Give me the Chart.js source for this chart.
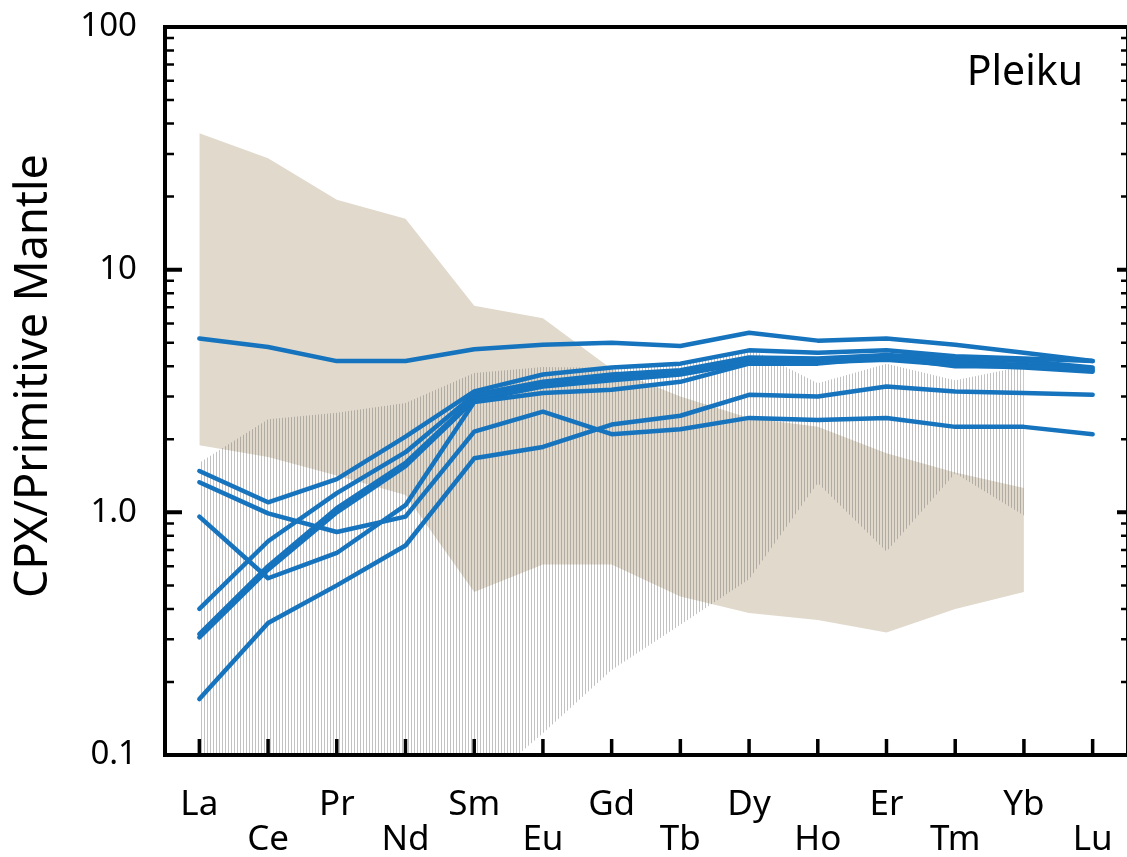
<!DOCTYPE html>
<html>
<head>
<meta charset="utf-8">
<script src="https://cdn.jsdelivr.net/npm/chart.js@4.4.1/dist/chart.umd.min.js"></script>
<style>
  html, body { margin: 0; padding: 0; background: #fff; }
  #c { display: block; }
</style>
</head>
<body>
<canvas id="c" width="1127" height="857"></canvas>
<script>
const elements = ['La','Ce','Pr','Nd','Sm','Eu','Gd','Tb','Dy','Ho','Er','Tm','Yb','Lu'];

// CPX samples, normalised to primitive mantle
const cpx1 = [5.2, 4.8, 4.2, 4.2, 4.7, 4.9, 5.0, 4.85, 5.5, 5.1, 5.2, 4.9, 4.55, 4.2];
const cpx2 = [1.48, 1.10, 1.37, 2.05, 3.15, 3.7, 3.95, 4.1, 4.65, 4.55, 4.65, 4.4, 4.3, 4.2];
const cpx3 = [1.33, 0.99, 0.83, 0.96, 2.15, 2.6, 2.1, 2.2, 2.45, 2.4, 2.45, 2.25, 2.25, 2.1];
const cpx4 = [0.96, 0.535, 0.68, 1.07, 2.85, 3.1, 3.2, 3.45, 4.1, 4.1, 4.35, 4.0, 4.0, 3.9];
const cpx5 = [0.40, 0.76, 1.2, 1.77, 3.05, 3.45, 3.7, 3.85, 4.35, 4.3, 4.45, 4.3, 4.2, 3.95];
const cpx6 = [0.315, 0.60, 1.04, 1.6, 2.95, 3.35, 3.6, 3.75, 4.2, 4.2, 4.3, 4.15, 4.05, 3.85];
const cpx7 = [0.305, 0.58, 1.0, 1.55, 2.9, 3.3, 3.5, 3.7, 4.15, 4.15, 4.25, 4.05, 3.95, 3.8];
const cpx8 = [0.17, 0.35, 0.5, 0.73, 1.67, 1.86, 2.3, 2.5, 3.05, 3.0, 3.3, 3.15, 3.1, 3.05];

// reference fields (no value at Lu)
const tanUpper   = [36.5, 28.8, 19.4, 16.2, 7.1, 6.3, 3.9, 3.0, 2.45, 2.25, 1.75, 1.46, 1.26, null];
const tanLower   = [1.89, 1.69, 1.42, 1.18, 0.47, 0.61, 0.61, 0.45, 0.385, 0.36, 0.32, 0.40, 0.47, null];
const hatchUpper = [1.6, 2.42, 2.57, 2.82, 3.75, 3.97, 3.93, 4.05, 4.75, 3.4, 4.1, 3.5, 4.0, null];
const hatchLower = [0.07, 0.07, 0.07, 0.07, 0.07, 0.123, 0.224, 0.344, 0.53, 1.32, 0.69, 1.45, 0.97, null];

const yTickValues = [0.1, 1, 10, 100];

const BLUE = '#1673bd';
const TAN = '#e0d9cc';

function makeHatch() {
  const c = document.createElement('canvas');
  c.width = 3; c.height = 4;
  const g = c.getContext('2d');
  g.fillStyle = 'rgba(110,110,110,0.42)';
  g.fillRect(0, 0, 1, 4);
  return g.createPattern(c, 'repeat');
}

const samples = [cpx1, cpx2, cpx3, cpx4, cpx5, cpx6, cpx7, cpx8];
const datasets = samples.map((d, i) => ({
  label: 'cpx' + (i + 1), data: d, borderColor: BLUE, borderWidth: 4.5,
  borderCapStyle: 'round', borderJoinStyle: 'round', fill: false, order: 0
}));
datasets.push(
  { label: 'hatchUp', data: hatchUpper, borderWidth: 0, borderColor: 'rgba(0,0,0,0)', fill: '+1', backgroundColor: makeHatch(), order: 1 },
  { label: 'hatchLo', data: hatchLower, borderWidth: 0, borderColor: 'rgba(0,0,0,0)', fill: false, order: 1 },
  { label: 'tanUp', data: tanUpper, borderWidth: 0, borderColor: 'rgba(0,0,0,0)', fill: '+1', backgroundColor: TAN, order: 2 },
  { label: 'tanLo', data: tanLower, borderWidth: 0, borderColor: 'rgba(0,0,0,0)', fill: false, order: 2 }
);

const framePlugin = {
  id: 'frame',
  afterDatasetsDraw(chart) {
    const { ctx, chartArea: a, scales } = chart;
    const y = scales.y, x = scales.x;
    ctx.save();
    ctx.strokeStyle = '#000';
    ctx.lineCap = 'butt';
    // frame
    ctx.lineWidth = 4;
    ctx.beginPath();
    ctx.moveTo(a.right + 2, a.top); ctx.lineTo(a.left, a.top);
    ctx.lineTo(a.left, a.bottom); ctx.lineTo(a.right + 2, a.bottom);
    ctx.moveTo(a.right + 1, a.top); ctx.lineTo(a.right + 1, a.bottom);
    ctx.stroke();
    // y ticks, both sides
    const minor = [];
    [0.1, 1, 10].forEach(d => { for (let k = 2; k <= 9; k++) minor.push(d * k); });
    ctx.lineWidth = 2.5;
    ctx.beginPath();
    minor.forEach(v => {
      const py = y.getPixelForValue(v);
      ctx.moveTo(a.left, py); ctx.lineTo(a.left + 9, py);
      ctx.moveTo(a.right, py); ctx.lineTo(a.right - 6, py);
    });
    ctx.stroke();
    ctx.lineWidth = 4;
    ctx.beginPath();
    [1, 10].forEach(v => {
      const py = y.getPixelForValue(v);
      ctx.moveTo(a.left, py); ctx.lineTo(a.left + 17, py);
      ctx.moveTo(a.right, py); ctx.lineTo(a.right - 10, py);
    });
    ctx.stroke();
    // x ticks
    ctx.lineWidth = 3.5;
    ctx.beginPath();
    elements.forEach((e, i) => {
      const px = x.getPixelForValue(i);
      ctx.moveTo(px, a.bottom); ctx.lineTo(px, a.bottom - 16);
    });
    ctx.stroke();
    // y title
    ctx.fillStyle = '#000';
    ctx.font = '45px "Noto Sans"';
    ctx.save();
    ctx.translate(47, 376);
    ctx.rotate(-Math.PI / 2);
    ctx.textAlign = 'center';
    ctx.textBaseline = 'alphabetic';
    ctx.fillText('CPX/Primitive Mantle', 0, 0);
    ctx.restore();
    // locality
    ctx.font = '41px "Noto Sans"';
    ctx.textAlign = 'right';
    ctx.textBaseline = 'alphabetic';
    ctx.fillText('Pleiku', 1083, 85);
    ctx.restore();
  }
};

function noPad(s) {
  s.paddingTop = 0; s.paddingBottom = 0; s.paddingLeft = 0; s.paddingRight = 0;
}

new Chart(document.getElementById('c').getContext('2d'), {
  type: 'line',
  data: { labels: elements, datasets: datasets },
  options: {
    responsive: false,
    animation: false,
    layout: { padding: { top: 27, right: 0, left: 0, bottom: 0 } },
    plugins: { legend: { display: false }, tooltip: { enabled: false } },
    elements: { point: { radius: 0 }, line: { tension: 0 } },
    scales: {
      x: {
        type: 'category', offset: true,
        grid: { display: false, drawTicks: false }, border: { display: false },
        ticks: {
          color: '#000', padding: 33, maxRotation: 0, autoSkip: false,
          font: { family: 'Noto Sans', size: 35, lineHeight: 1.0 },
          callback: (v, i) => i % 2 ? ['', elements[i]] : elements[i]
        },
        afterFit: s => { s.height = 102; noPad(s); }
      },
      y: {
        type: 'logarithmic', min: 0.1, max: 100,
        grid: { display: false, drawTicks: false }, border: { display: false },
        ticks: {
          color: '#000', padding: 28,
          font: { family: 'Noto Sans', size: 33 },
          callback: v => v === 1 ? '1.0' : String(v)
        },
        afterBuildTicks: s => { s.ticks = yTickValues.map(v => ({ value: v })); },
        afterFit: s => { s.width = 165; noPad(s); }
      }
    }
  },
  plugins: [framePlugin]
});
</script>
</body>
</html>
